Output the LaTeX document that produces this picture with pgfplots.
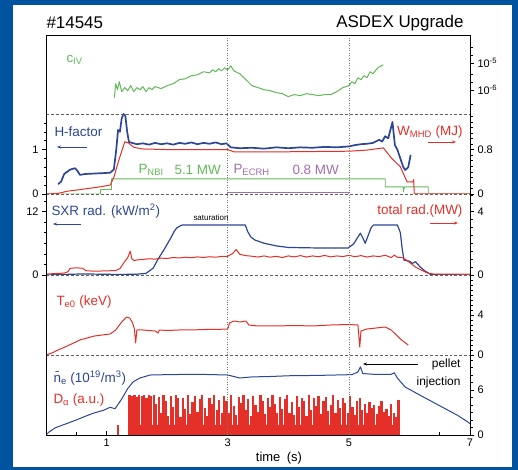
\documentclass[border=0pt]{standalone}
\usepackage{pgfplots}
\pgfplotsset{compat=1.18}
\usetikzlibrary{arrows.meta}
\usepackage{fontspec}
\setmainfont{Liberation Sans}

\definecolor{bg}{RGB}{0,84,159}
\definecolor{cblue}{RGB}{45,70,150}
\definecolor{cred}{RGB}{228,48,40}
\definecolor{cgreen}{RGB}{100,185,90}
\definecolor{cpurple}{RGB}{165,110,175}
\definecolor{cgrid}{RGB}{120,120,120}

\pgfplotsset{
  panel/.style={scale only axis, width=424bp, xmin=0, xmax=7, anchor=south west,
    axis line style={draw=none}, xtick=\empty, ytick=\empty,
    tick align=outside, major tick length=4bp, minor tick length=2.5bp,
    every tick/.style={black, line width=0.5bp},
    tick label style={font=\fontsize{11}{11}\selectfont},
    /pgf/number format/assume math mode=true,
    every axis plot/.append style={line width=1bp, line join=round, mark=none}},
  rightax/.style={ytick pos=right, yticklabel pos=right},
  leftax/.style={ytick pos=left, yticklabel pos=left},
}

\newcommand{\lab}{\fontsize{13.5}{13.5}\selectfont}

\begin{document}
\begin{tikzpicture}[x=1bp,y=1bp]
\useasboundingbox (0,0) rectangle (518,470);
\fill[bg] (0,0) rectangle (518,470);
\fill[white] (13,3) rectangle (512,465);

% ---------------- panel 1 : C IV (log)
\begin{axis}[panel, rightax, at={(46bp,356bp)}, height=79bp, ymode=log,
  ymin=1.29e-7, ymax=1.14e-4, ytick={1e-6,1e-5},
  yticklabels={10\textsuperscript{-6},10\textsuperscript{-5}},
  minor ytick={3e-7,2e-6,4e-6,2e-5,4e-5}]
\addplot[cgreen] coordinates {
(1.13,5.27e-7)(1.15,1.74e-6)(1.18,1.04e-6)(1.21,2.06e-6)(1.25,8.8e-7)(1.30,1.24e-6)
(1.35,9.6e-7)(1.40,1.47e-6)(1.45,8.8e-7)(1.50,1.24e-6)(1.55,1.04e-6)(1.60,1.35e-6)
(1.65,8.8e-7)(1.70,1.24e-6)(1.75,1.04e-6)(1.80,1.35e-6)(1.90,1.14e-6)(2.00,1.47e-6)
(2.10,1.74e-6)(2.20,2.45e-6)(2.30,2.67e-6)(2.40,3.44e-6)(2.50,3.75e-6)(2.60,4.84e-6)
(2.70,4.45e-6)(2.75,5.74e-6)(2.80,4.84e-6)(2.85,6.25e-6)(2.90,5.27e-6)(2.95,6.81e-6)
(3.00,5.74e-6)(3.05,8.08e-6)(3.10,5.27e-6)(3.20,4.08e-6)(3.30,2.45e-6)(3.40,1.47e-6)
(3.50,1.24e-6)(3.60,1.04e-6)(3.70,9.6e-7)(3.80,8.07e-7)(3.90,7.41e-7)(4.00,5.74e-7)
(4.10,6.81e-7)(4.20,6.25e-7)(4.30,7.41e-7)(4.40,6.81e-7)(4.50,6.25e-7)(4.60,6.81e-7)
(4.70,6.81e-7)(4.80,8.8e-7)(4.90,1.24e-6)(5.00,1.47e-6)(5.05,2.06e-6)(5.10,1.74e-6)
(5.15,2.90e-6)(5.20,2.45e-6)(5.25,3.44e-6)(5.30,2.90e-6)(5.35,4.84e-6)(5.40,4.08e-6)
(5.45,5.74e-6)(5.50,7.41e-6)(5.57,8.80e-6)};
\end{axis}
% top time ticks (minor ticks only, so no labels)
\begin{axis}[panel, at={(46bp,356bp)}, height=79bp, ymin=0, ymax=1,
  tick align=inside, minor tick length=4bp, xtick=\empty,
  minor xtick={0.5,1,...,6.5}, xtick pos=right]
\end{axis}

% ---------------- panel 2 : H-factor, W_MHD, P_NBI, P_ECRH
\begin{axis}[panel, leftax, at={(46bp,276bp)}, height=80bp, ymin=0, ymax=1.80,
  ytick={0,1}, minor ytick={0.2,0.4,0.6,0.8,1.2,1.4,1.6}]
\addplot[cgreen, line width=0.8bp] coordinates {
(0,0)(0.9,0)(0.9,0.1)(1.08,0.1)(1.08,0.34)(5.6,0.34)(5.6,0.16)(5.9,0.16)(5.9,0.05)
(5.92,0.16)(6.31,0.16)(6.31,0)(7,0)};
\addplot[cpurple, line width=0.8bp] coordinates {
(0,0)(3.0,0)(3.0,0.045)(5.0,0.045)(5.0,0)(7,0)};
\addplot[cblue, line width=1.7bp] coordinates {
(0.20,0.22)(0.25,0.28)(0.30,0.45)(0.35,0.50)(0.40,0.55)(0.48,0.58)(0.52,0.52)(0.56,0.43)
(0.65,0.45)(0.80,0.46)(0.95,0.47)(1.06,0.48)(1.12,0.55)(1.16,1.00)(1.19,1.44)(1.22,1.40)
(1.25,1.70)(1.28,1.80)(1.31,1.76)(1.34,1.40)(1.37,1.17)(1.42,1.15)(1.50,1.12)(1.60,1.14)
(1.70,1.11)(1.80,1.15)(1.90,1.12)(2.00,1.14)(2.10,1.11)(2.20,1.15)(2.30,1.13)(2.40,1.16)
(2.50,1.12)(2.60,1.15)(2.70,1.13)(2.80,1.16)(2.90,1.12)(2.98,1.14)(3.05,1.05)(3.20,1.03)
(3.40,1.04)(3.60,1.02)(3.80,1.05)(4.00,1.03)(4.20,1.05)(4.40,1.04)(4.60,1.06)(4.80,1.05)
(5.00,1.07)(5.10,1.10)(5.20,1.12)(5.30,1.13)(5.40,1.15)(5.50,1.22)(5.55,1.18)(5.60,1.30)
(5.65,1.25)(5.72,1.62)(5.76,1.10)(5.80,1.00)(5.85,0.80)(5.90,0.60)(5.93,0.54)(5.98,0.60)
(6.02,0.88)};
\end{axis}
\begin{axis}[panel, rightax, at={(46bp,276bp)}, height=80bp, ymin=0, ymax=1.44,
  ytick={0,0.8}, minor ytick={0.1,0.2,...,1.4}]
\addplot[cred] coordinates {
(0,0)(0.20,0.01)(0.35,0.05)(0.50,0.07)(0.70,0.10)(0.90,0.13)(1.06,0.16)(1.12,0.30)
(1.20,0.60)(1.30,0.94)(1.36,0.92)(1.45,0.84)(1.60,0.81)(2.00,0.80)(2.50,0.80)(3.00,0.80)
(3.10,0.76)(4.00,0.76)(5.00,0.77)(5.30,0.79)(5.57,0.83)(5.70,0.65)(5.85,0.49)(5.96,0.22)
(6.06,0.22)(6.07,0.26)(6.08,0)(7,0)};
\end{axis}

% ---------------- panel 3 : SXR and total radiation
\begin{axis}[panel, leftax, at={(46bp,195bp)}, height=81bp, ymin=0, ymax=15.3,
  ytick={0,12}, minor ytick={2,4,6,8,10,14}]
\addplot[cblue, line width=1.2bp] coordinates {
(0,0)(0.30,0.1)(0.60,0.2)(0.90,0.15)(1.20,0.1)(1.50,0.15)(1.65,0.3)(1.77,1.3)(1.85,3.0)
(1.95,4.8)(2.05,6.8)(2.12,8.3)(2.16,8.9)(2.22,9.3)(2.25,9.45)(3.29,9.45)(3.33,8.2)
(3.38,7.2)(3.45,6.6)(3.60,6.0)(3.80,5.5)(4.00,5.2)(4.50,5.1)(4.99,5.1)(5.08,5.9)
(5.14,7.0)(5.19,7.9)(5.23,7.0)(5.27,6.0)(5.32,7.5)(5.37,9.0)(5.41,9.45)(5.80,9.45)
(5.85,8.0)(5.88,5.0)(5.91,2.8)(6.00,2.6)(6.05,2.2)(6.10,2.5)(6.18,1.5)(6.25,0.8)
(6.35,0.1)(7,0)};
\end{axis}
\begin{axis}[panel, rightax, at={(46bp,195bp)}, height=81bp, ymin=0, ymax=5.1,
  ytick={0,4}, minor ytick={0.5,1,...,5}]
\addplot[cred] coordinates {
(0,0.06)(0.30,0.12)(0.36,0.2)(0.40,0.42)(0.50,0.45)(0.60,0.43)(0.66,0.27)(0.80,0.24)
(1.00,0.26)(1.15,0.28)(1.22,0.4)(1.30,0.85)(1.35,1.1)(1.39,1.5)(1.42,1.0)(1.46,0.9)
(1.50,0.95)(1.60,0.98)(1.70,1.02)(1.80,1.0)(1.90,1.06)(2.00,1.04)(2.10,1.1)(2.20,1.07)
(2.30,1.12)(2.40,1.09)(2.50,1.14)(2.60,1.1)(2.70,1.15)(2.80,1.12)(2.90,1.17)(3.00,1.18)
(3.08,1.35)(3.14,1.6)(3.20,1.3)(3.30,1.22)(3.40,1.18)(3.50,1.13)(3.60,1.2)(3.70,1.12)
(3.80,1.18)(3.90,1.1)(4.00,1.2)(4.10,1.14)(4.20,1.22)(4.30,1.13)(4.40,1.2)(4.50,1.15)
(4.60,1.23)(4.70,1.14)(4.80,1.2)(4.90,1.16)(5.00,1.24)(5.10,1.15)(5.20,1.22)(5.30,1.13)
(5.40,1.2)(5.50,1.16)(5.60,1.24)(5.70,1.1)(5.75,1.25)(5.80,1.12)(5.90,1.08)(6.00,0.8)
(6.10,0.5)(6.20,0.3)(6.30,0.12)(6.40,0.06)(7,0.06)};
\end{axis}

% ---------------- panel 4 : Te0
\begin{axis}[panel, rightax, at={(46bp,115bp)}, height=80bp, ymin=0, ymax=8,
  ytick={0,4}, minor ytick={0.5,1,...,7.5}]
\addplot[cred] coordinates {
(0,0)(0.10,0.2)(0.20,0.5)(0.35,0.9)(0.56,1.5)(0.80,1.9)(1.06,2.1)(1.15,2.5)(1.25,3.3)
(1.33,3.8)(1.38,3.7)(1.43,3.2)(1.46,2.6)(1.48,1.2)(1.50,2.5)(1.60,2.5)(1.80,2.4)
(1.85,2.2)(1.87,2.5)(2.00,2.45)(2.20,2.5)(2.40,2.5)(2.60,2.55)(2.80,2.55)(3.00,2.6)
(3.03,3.2)(3.10,3.4)(3.20,3.3)(3.30,3.4)(3.35,3.0)(3.50,2.9)(3.80,2.9)(4.10,2.95)
(4.40,2.9)(4.70,3.0)(5.00,3.05)(5.15,3.0)(5.18,0.8)(5.20,2.4)(5.30,2.6)(5.45,2.7)
(5.60,2.8)(5.70,2.5)(5.85,1.6)(5.98,1.0)};
\end{axis}

% ---------------- panel 5 : density and D alpha
\begin{axis}[panel, at={(46bp,35bp)}, height=80bp, ymin=0, ymax=10.67,
  tick align=inside, xtick={1,3,5,7}, minor xtick={0.5,1.5,...,6.5}, xtick pos=left]
\addplot[cred, line width=2.2bp, ycomb] table[row sep=\\] {
x y\\
1.19 1.3\\
1.38 5.3\\ 1.42 5.2\\ 1.46 5.3\\ 1.50 5.1\\ 1.54 5.3\\ 1.58 5.2\\ 1.62 5.3\\ 1.66 5.0\\ 1.70 5.3\\ 1.74 5.2\\
1.78 5.3\\ 1.82 4.2\\ 1.86 5.1\\ 1.90 3.0\\ 1.94 5.3\\ 1.98 4.6\\ 2.02 2.6\\ 2.06 5.2\\ 2.10 3.8\\ 2.14 5.3\\
2.18 4.9\\ 2.22 2.4\\ 2.26 5.0\\ 2.30 3.5\\ 2.34 5.3\\ 2.38 2.8\\ 2.42 4.4\\ 2.46 5.2\\ 2.50 3.1\\ 2.54 4.8\\
2.58 5.3\\ 2.62 3.6\\ 2.66 2.5\\ 2.70 5.0\\ 2.74 4.1\\ 2.78 5.3\\ 2.82 3.3\\ 2.86 4.7\\ 2.90 2.9\\ 2.94 5.2\\
2.98 4.5\\ 3.02 3.0\\ 3.06 5.3\\ 3.10 3.9\\ 3.14 2.7\\ 3.18 5.1\\ 3.22 4.3\\ 3.26 5.3\\ 3.30 3.4\\ 3.34 4.8\\
3.38 2.6\\ 3.42 5.2\\ 3.46 4.0\\ 3.50 3.1\\ 3.54 5.3\\ 3.58 4.6\\ 3.62 2.8\\ 3.66 5.0\\ 3.70 3.7\\ 3.74 5.3\\
3.78 4.2\\ 3.82 2.9\\ 3.86 5.1\\ 3.90 3.5\\ 3.94 4.8\\ 3.98 5.3\\ 4.02 3.0\\ 4.06 4.4\\ 4.10 2.7\\ 4.14 5.2\\
4.18 3.8\\ 4.22 5.0\\ 4.26 4.5\\ 4.30 2.6\\ 4.34 5.3\\ 4.38 3.3\\ 4.42 4.9\\ 4.46 3.9\\ 4.50 5.2\\ 4.54 2.8\\
4.58 4.6\\ 4.62 5.1\\ 4.66 3.2\\ 4.70 4.0\\ 4.74 5.3\\ 4.78 2.9\\ 4.82 4.7\\ 4.86 3.6\\ 4.90 5.0\\ 4.94 4.3\\
4.98 3.0\\ 5.02 5.2\\ 5.06 3.8\\ 5.10 2.7\\ 5.14 4.5\\ 5.18 4.9\\ 5.22 3.4\\ 5.26 4.1\\ 5.30 3.0\\ 5.34 4.4\\
5.38 3.6\\ 5.42 4.0\\ 5.46 2.8\\ 5.50 3.9\\ 5.54 4.6\\ 5.58 3.1\\ 5.62 3.5\\ 5.66 2.6\\ 5.70 4.2\\ 5.74 3.0\\
5.78 2.4\\ 5.82 4.7\\
};
\addplot[draw=none, fill=cred] coordinates {
(1.36,0)(1.36,1.4)(5.83,1.4)(5.83,0)} -- cycle;
\addplot[cblue] coordinates {
(0,0)(0.05,0.4)(0.15,0.95)(0.30,1.4)(0.50,2.0)(0.65,2.5)(0.78,2.9)(0.95,3.3)(1.06,3.7)
(1.14,3.5)(1.25,4.8)(1.35,6.2)(1.44,7.1)(1.55,7.6)(1.72,8.0)(2.00,8.05)(2.50,8.1)
(3.00,8.0)(3.10,7.8)(3.20,7.6)(3.40,7.75)(3.70,7.8)(4.00,7.9)(4.50,7.95)(5.05,8.05)
(5.15,8.4)(5.19,9.1)(5.23,8.2)(5.40,8.1)(5.70,8.1)(5.75,8.3)(5.80,7.6)(5.93,6.4)
(6.20,5.2)(6.50,3.9)(6.80,2.6)(6.97,1.7)(7.00,1.5)};
\end{axis}
\begin{axis}[panel, rightax, at={(46bp,35bp)}, height=80bp, ymin=0, ymax=10.67,
  ytick={0,6}, minor ytick={1,2,...,10}]
\end{axis}

% ---------------- frame, separators, time markers
\draw[cgrid, line width=0.5bp, dash pattern=on 1pt off 1.5pt] (227.7,35) -- (227.7,435);
\draw[cgrid, line width=0.5bp, dash pattern=on 1pt off 1.5pt] (348.9,35) -- (348.9,435);
\foreach \yy in {356,276,195,115}
  \draw[cgrid!80!black, line width=0.7bp, dash pattern=on 3pt off 2pt] (46,\yy) -- (470,\yy);
\draw[black, line width=0.7bp] (46,35) rectangle (470,435);

% ---------------- texts
\node[anchor=west, font=\fontsize{17}{17}\selectfont] at (43,447) {\#14545};
\node[anchor=east, font=\fontsize{17}{17}\selectfont] at (467,447) {ASDEX Upgrade};

\node[anchor=west, cgreen, font=\lab] at (63,410) {c\textsubscript{IV}};

\node[anchor=west, cblue, font=\lab] at (51,338) {H-factor};
\draw[cblue, line width=0.8bp, -{Stealth[length=4bp,width=3bp]}] (87,323) -- (57,323);
\node[anchor=east, cred, font=\lab] at (466,338) {W\textsubscript{MHD} (MJ)};
\draw[cred, line width=0.8bp, -{Stealth[length=4bp,width=3bp]}] (428,328) -- (456,328);
\node[anchor=west, cgreen, font=\lab] at (135,300) {P\textsubscript{NBI}};
\node[anchor=west, cgreen, font=\lab] at (171,300) {5.1 MW};
\node[anchor=west, cpurple, font=\lab] at (230,300) {P\textsubscript{ECRH}};
\node[anchor=west, cpurple, font=\lab] at (289,300) {0.8 MW};

\node[anchor=west, cblue, font=\lab] at (48,259) {SXR rad. (kW/m\textsuperscript{2})};
\draw[cblue, line width=0.8bp, -{Stealth[length=4bp,width=3bp]}] (81,246) -- (53,246);
\node[font=\fontsize{8}{8}\selectfont] at (211,252) {saturation};
\node[anchor=east, cred, font=\lab] at (466,259) {total rad.(MW)};
\draw[cred, line width=0.8bp, -{Stealth[length=4bp,width=3bp]}] (430,247) -- (458,247);

\node[anchor=west, cred, font=\lab] at (53,168) {T\textsubscript{e0} (keV)};

\node[anchor=west, cblue, font=\lab] at (50,92) {\=n\textsubscript{e} (10\textsuperscript{19}/m\textsuperscript{3})};
\node[anchor=west, cred, font=\lab] at (50,70) {D\textsubscript{α} (a.u.)};
\node[anchor=east, font=\fontsize{12}{12}\selectfont] at (464,106) {pellet};
\node[anchor=east, font=\fontsize{12}{12}\selectfont] at (464,88) {injection};
\draw[black, line width=0.7bp, -{Stealth[length=4bp,width=3bp]}] (418,106) -- (363,106);

\node[font=\fontsize{13}{13}\selectfont] at (279,12) {time\enspace(s)};
\end{tikzpicture}
\end{document}
